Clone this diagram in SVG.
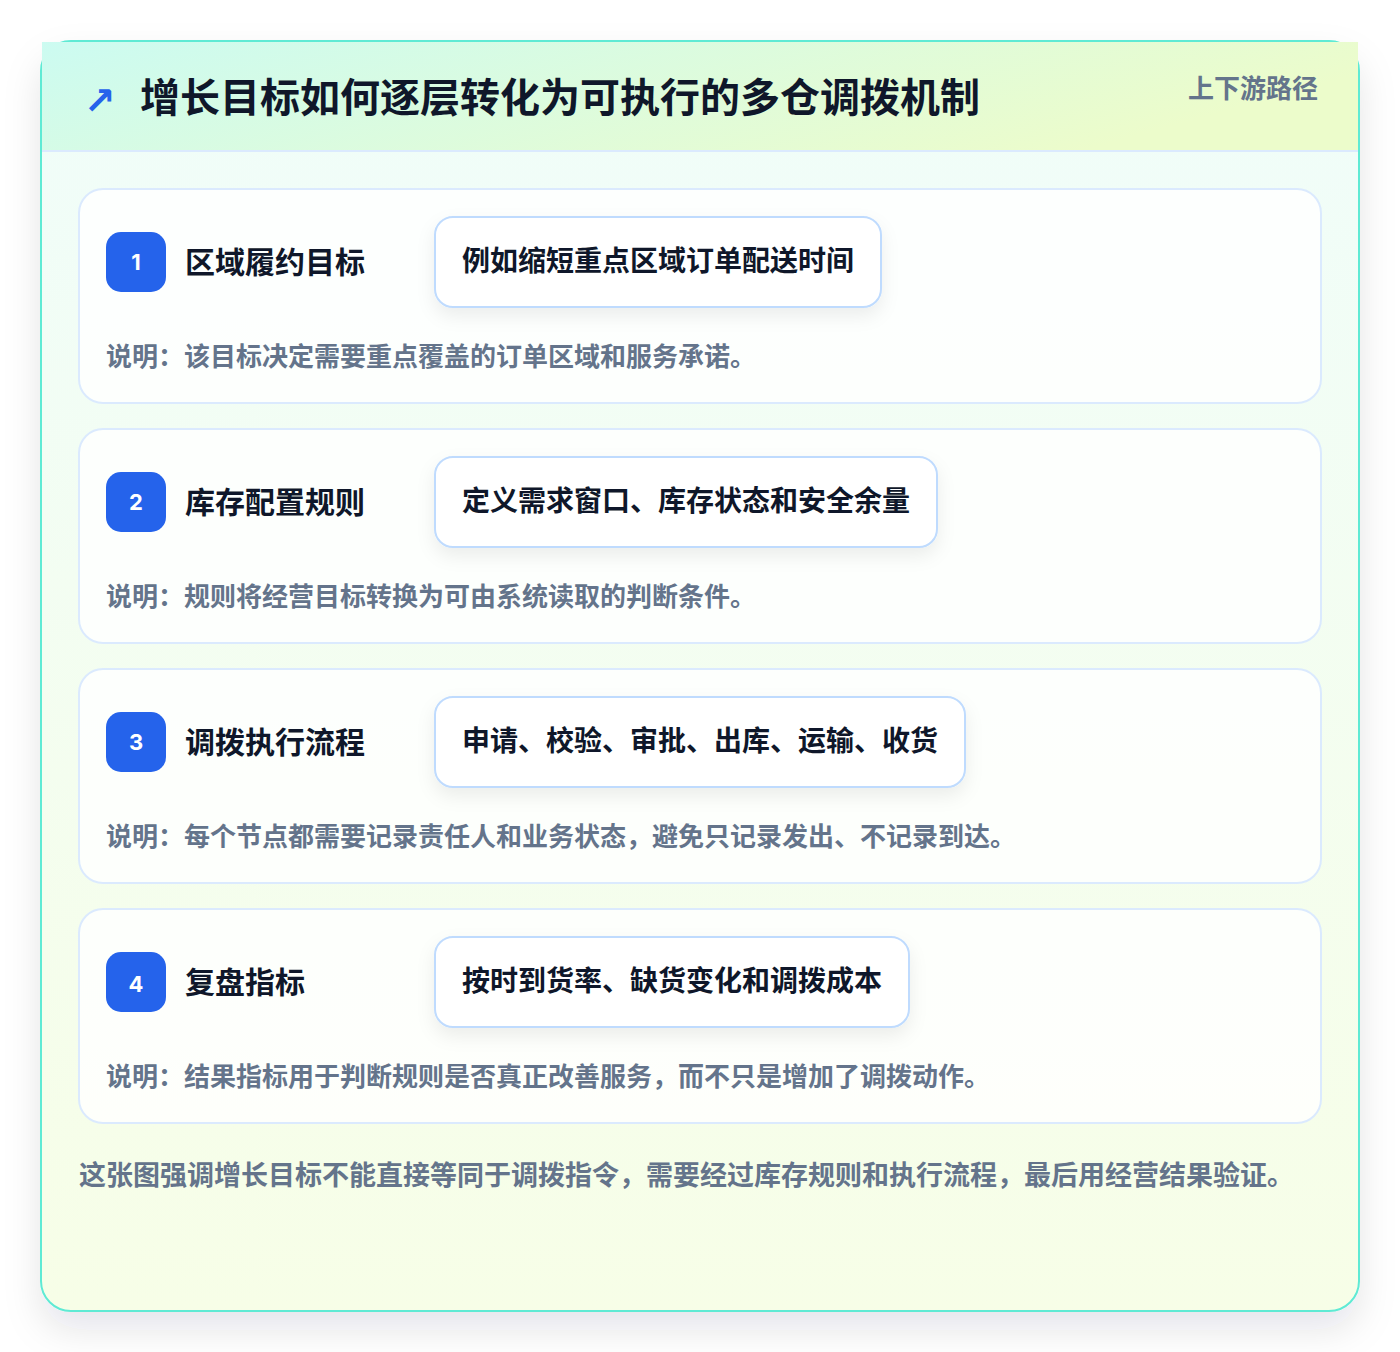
<svg xmlns="http://www.w3.org/2000/svg" width="1400" height="1352" viewBox="0 0 1400 1352">
<defs>
<linearGradient id="hdr" x1="0" y1="0" x2="1" y2="0.3">
<stop offset="0" stop-color="#ccfbf1"/>
<stop offset="1" stop-color="#ecfccb"/>
</linearGradient>
<linearGradient id="body" x1="0" y1="0" x2="0" y2="1">
<stop offset="0" stop-color="#f0fdfa"/>
<stop offset="1" stop-color="#f7fee7"/>
</linearGradient>
<filter id="outerShadow" x="-10%" y="-10%" width="120%" height="125%">
<feDropShadow dx="0" dy="18" stdDeviation="18" flood-color="#0f172a" flood-opacity="0.10"/>
</filter>
<filter id="pillShadow" x="-10%" y="-30%" width="120%" height="180%">
<feDropShadow dx="0" dy="8" stdDeviation="9" flood-color="#0f172a" flood-opacity="0.07"/>
</filter>
<style>
.card{fill:#ffffff;fill-opacity:0.82;stroke:#dbeafe;stroke-width:2}
.badge{fill:#2563eb}
.num{font-family:Inter,"Noto Sans CJK SC",sans-serif;font-weight:700;font-size:22px;fill:#ffffff;text-anchor:middle}
.ttl{font-family:"Noto Sans CJK SC","Noto Sans",sans-serif;font-weight:700;font-size:30px;fill:#0f172a}
.pill{fill:#ffffff;stroke:#bfdbfe;stroke-width:2}
.ptxt{font-family:"Noto Sans CJK SC","Noto Sans",sans-serif;font-weight:700;font-size:28px;fill:#0f172a}
.desc{font-family:"Noto Sans CJK SC","Noto Sans",sans-serif;font-weight:700;font-size:26px;fill:#64748b}
</style>
</defs>
<rect width="1400" height="1352" fill="#ffffff"/>
<g id="frame">
<rect x="41" y="41" width="1318" height="1270" rx="30" fill="url(#body)" stroke="#5eead4" stroke-width="2" filter="url(#outerShadow)"/>
<rect x="42" y="42" width="1316" height="109" fill="url(#hdr)"/>
<line x1="42" y1="151" x2="1358" y2="151" stroke="#dbeafe" stroke-width="2"/>
<text x="84" y="114" font-family="DejaVu Sans,sans-serif" font-size="38" font-weight="700" fill="#2563eb">↗</text>
<text x="140" y="112" font-family="'Noto Sans CJK SC','Noto Sans',sans-serif" font-weight="700" font-size="40" fill="#0f172a">增长目标如何逐层转化为可执行的多仓调拨机制</text>
<text x="1318" y="98" text-anchor="end" font-family="'Noto Sans CJK SC','Noto Sans',sans-serif" font-weight="700" font-size="26" fill="#64748b">上下游路径</text>
</g>
<g id="connectors"></g>
<g id="step1">
<rect class="card" x="79" y="189" width="1242" height="214" rx="24"/>
<rect class="badge" x="106" y="232" width="60" height="60" rx="15"/>
<text class="num" x="136" y="270">1</text>
<text class="ttl" x="185" y="273">区域履约目标</text>
<rect class="pill" x="435" y="217" width="446" height="90" rx="18" filter="url(#pillShadow)"/>
<text class="ptxt" x="462" y="271">例如缩短重点区域订单配送时间</text>
<text class="desc" x="106" y="366">说明：该目标决定需要重点覆盖的订单区域和服务承诺。</text>
</g>
<g id="step2">
<rect class="card" x="79" y="429" width="1242" height="214" rx="24"/>
<rect class="badge" x="106" y="472" width="60" height="60" rx="15"/>
<text class="num" x="136" y="510">2</text>
<text class="ttl" x="185" y="513">库存配置规则</text>
<rect class="pill" x="435" y="457" width="502" height="90" rx="18" filter="url(#pillShadow)"/>
<text class="ptxt" x="462" y="511">定义需求窗口、库存状态和安全余量</text>
<text class="desc" x="106" y="606">说明：规则将经营目标转换为可由系统读取的判断条件。</text>
</g>
<g id="step3">
<rect class="card" x="79" y="669" width="1242" height="214" rx="24"/>
<rect class="badge" x="106" y="712" width="60" height="60" rx="15"/>
<text class="num" x="136" y="750">3</text>
<text class="ttl" x="185" y="753">调拨执行流程</text>
<rect class="pill" x="435" y="697" width="530" height="90" rx="18" filter="url(#pillShadow)"/>
<text class="ptxt" x="462" y="751">申请、校验、审批、出库、运输、收货</text>
<text class="desc" x="106" y="846">说明：每个节点都需要记录责任人和业务状态，避免只记录发出、不记录到达。</text>
</g>
<g id="step4">
<rect class="card" x="79" y="909" width="1242" height="214" rx="24"/>
<rect class="badge" x="106" y="952" width="60" height="60" rx="15"/>
<text class="num" x="136" y="992">4</text>
<text class="ttl" x="185" y="993">复盘指标</text>
<rect class="pill" x="435" y="937" width="474" height="90" rx="18" filter="url(#pillShadow)"/>
<text class="ptxt" x="462" y="991">按时到货率、缺货变化和调拨成本</text>
<text class="desc" x="106" y="1086">说明：结果指标用于判断规则是否真正改善服务，而不只是增加了调拨动作。</text>
</g>
<g id="footer">
<text x="79" y="1185" font-family="'Noto Sans CJK SC','Noto Sans',sans-serif" font-weight="700" font-size="27" fill="#64748b">这张图强调增长目标不能直接等同于调拨指令，需要经过库存规则和执行流程，最后用经营结果验证。</text>
</g>
</svg>
